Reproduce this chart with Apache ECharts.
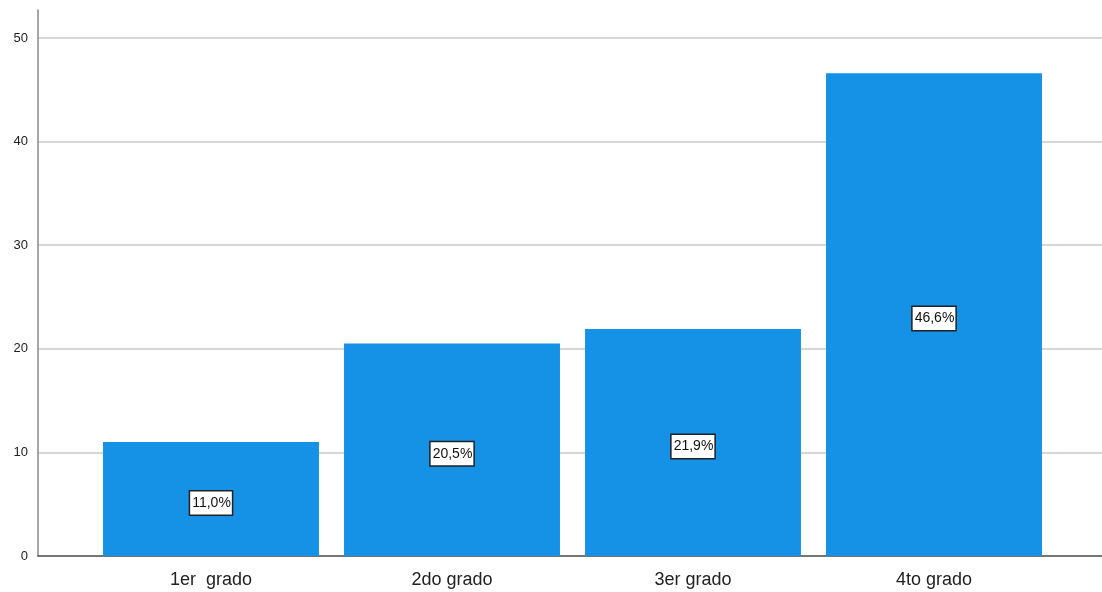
<!DOCTYPE html>
<html>
<head>
<meta charset="utf-8">
<script src="https://cdn.jsdelivr.net/npm/echarts@6/dist/echarts.min.js"></script>
<style>
  html, body { margin: 0; padding: 0; background: #fff; }
  #chart { width: 1102px; height: 592px; }
</style>
</head>
<body>
<div id="chart"></div>
<script>
// Grade categories and their share of respondents (percent)
const categories = ['1er  grado', '2do grado', '3er grado', '4to grado'];
const percents = [11.0, 20.5, 21.9, 46.6];
const yTicks = { min: 0, max: 50, step: 10 };

const FONT = '"Liberation Sans", Arial, sans-serif';
const fmt = v => v.toFixed(1).replace('.', ',') + '%';

const chart = echarts.init(document.getElementById('chart'), null, { renderer: 'canvas' });
const unitPx = 518 / (yTicks.max - yTicks.min);   // plot height per unit
const frameMax = yTicks.max + 28 / unitPx;         // axis line runs a little above the top tick

chart.setOption({
  animation: false,
  grid: [
    { left: 38, right: 0, top: 10, bottom: 36 },     // vertical axis line
    { left: 38, right: 0, top: 38, bottom: 36 },     // ticks, gridlines, baseline
    { left: 90.5, right: 47.5, top: 38, bottom: 36 } // bars
  ],
  xAxis: [
    { gridIndex: 0, type: 'value', show: false },
    { gridIndex: 1, type: 'value', min: 0, max: 1,
      axisLine: { show: true, lineStyle: { color: '#555', width: 1.5 } },
      axisTick: { show: false }, axisLabel: { show: false }, splitLine: { show: false } },
    { gridIndex: 2, type: 'category', data: categories,
      axisLine: { show: false }, axisTick: { show: false },
      axisLabel: { fontFamily: FONT, fontSize: 18, color: '#222', margin: 15 } }
  ],
  yAxis: [
    { gridIndex: 0, type: 'value', min: yTicks.min, max: frameMax,
      axisLine: { show: true, lineStyle: { color: '#888', width: 1.5 } },
      axisTick: { show: false }, axisLabel: { show: false }, splitLine: { show: false } },
    { gridIndex: 1, type: 'value', min: yTicks.min, max: yTicks.max, interval: yTicks.step,
      axisLine: { show: false }, axisTick: { show: false },
      axisLabel: { fontFamily: FONT, fontSize: 13, color: '#222', margin: 10 },
      splitLine: { show: true, lineStyle: { color: '#c8c8c8', width: 1.5 } } },
    { gridIndex: 2, type: 'value', min: yTicks.min, max: yTicks.max, show: false }
  ],
  series: [{
    type: 'bar',
    xAxisIndex: 2, yAxisIndex: 2,
    data: percents,
    barCategoryGap: '10.4%',
    itemStyle: { color: '#1591e6' },
    label: {
      show: true,
      position: 'inside',
      offset: [0, 4],
      formatter: p => fmt(p.value),
      fontFamily: FONT, fontSize: 14, color: '#111',
      backgroundColor: '#fff',
      borderColor: '#222', borderWidth: 1.5,
      padding: [5, 1, 4, 2]
    }
  }]
});
</script>
</body>
</html>
